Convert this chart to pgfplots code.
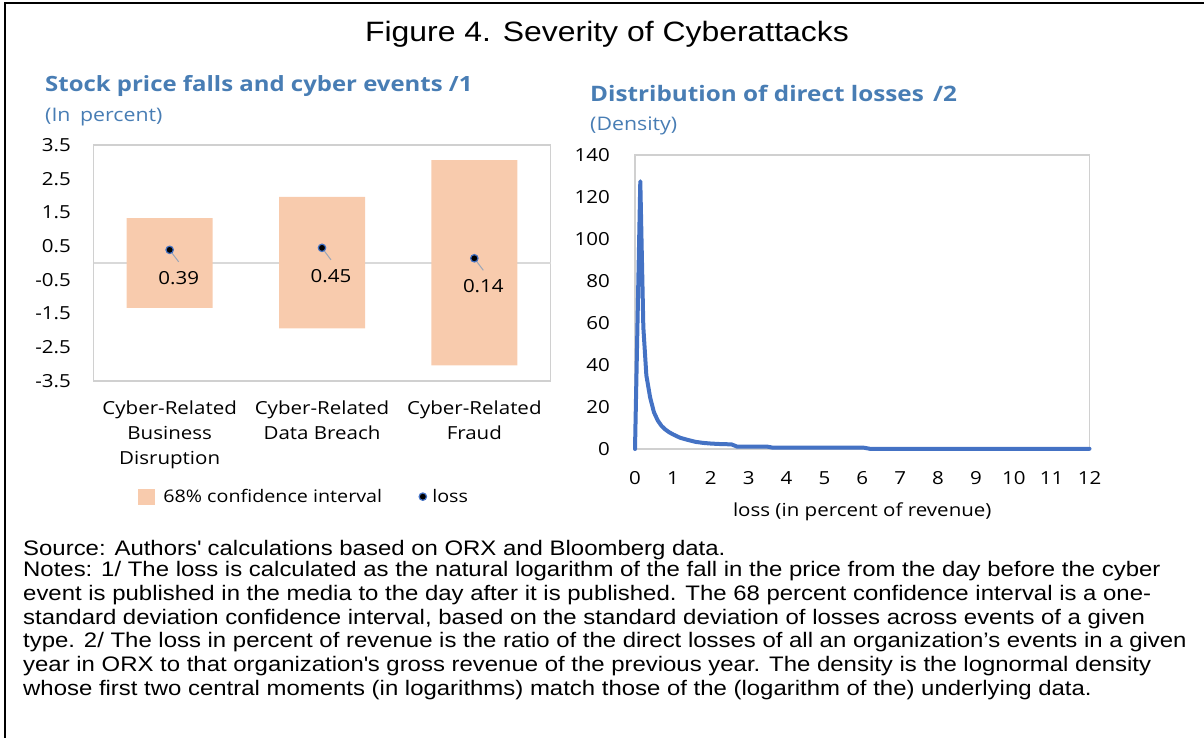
\documentclass[border=0pt]{standalone}
\usepackage{fontspec}
\setmainfont{Liberation Sans}[FakeStretch=1.14]
\newfontfamily\ui{Open Sans}[FakeStretch=1.14]
\usepackage{pgfplots}
\pgfplotsset{compat=1.18}
\definecolor{barfill}{HTML}{F8CBAD}
\definecolor{lineblue}{HTML}{4472C4}
\definecolor{subblue}{RGB}{72,125,180}
\definecolor{boxgray}{HTML}{D0D0D0}
\definecolor{zerogray}{HTML}{D9D9D9}
\definecolor{leader}{HTML}{9AA6B8}
\begin{document}
\begin{tikzpicture}
\path[use as bounding box] (0,0) rectangle (1204pt,-738pt);
\draw[line width=1.5pt] (5pt,-738pt) -- (5pt,-3pt) -- (1204pt,-3pt);
\node[anchor=base, inner sep=0pt, font=\fontsize{28}{32}\selectfont] at (607pt,-42pt) {Figure 4. Severity of Cyberattacks};
% left subtitles
\node[anchor=base west, inner sep=0pt, font=\ui\bfseries\fontsize{21}{25}\selectfont, text=subblue] at (45pt,-92pt) {Stock price falls and cyber events /1};
\node[anchor=base west, inner sep=0pt, font=\ui\fontsize{18.7}{22}\selectfont, text=subblue] at (45pt,-121.5pt) {(In\hspace{4pt} percent)};
% right subtitles
\node[anchor=base west, inner sep=0pt, font=\ui\bfseries\fontsize{21.3}{25}\selectfont, text=subblue] at (590pt,-101.3pt) {Distribution of direct losses\hspace{3pt} /2};
\node[anchor=base west, inner sep=0pt, font=\ui\fontsize{18.7}{22}\selectfont, text=subblue] at (590pt,-130.7pt) {(Density)};

\begin{axis}[
  at={(93.5pt,-381pt)}, anchor=south west, scale only axis,
  width=457pt, height=236pt,
  xmin=-0.5, xmax=2.5, ymin=-3.5, ymax=3.5,
  axis line style={draw=boxgray, line width=1.2pt},
  major tick length=0pt,
  xtick={0,1,2},
  xticklabels={{Cyber-Related\\Business\\Disruption},{Cyber-Related\\Data Breach},{Cyber-Related\\Fraud}},
  xticklabel style={align=center, anchor=north, inner sep=0pt, yshift=-20pt, font=\ui\fontsize{18}{25}\selectfont},
  ytick={-3.5,-2.5,-1.5,-0.5,0.5,1.5,2.5,3.5},
  yticklabels={-3.5,-2.5,-1.5,-0.5,0.5,1.5,2.5,3.5},
  yticklabel style={anchor=east, inner sep=0pt, xshift=-22.5pt, font=\ui\fontsize{18}{22}\selectfont},
  extra y ticks={0}, extra y tick labels={},
  extra y tick style={ymajorgrids=true, major grid style={draw=zerogray, line width=1.2pt}},
  clip=false,
  legend columns=2,
  legend cell align=left,
  legend style={at={(0.461,-0.49)}, anchor=center, draw=none, fill=none,
    font=\ui\fontsize{17.3}{20}\selectfont,
    /tikz/every even column/.append style={column sep=35pt}},
]
\addplot[ybar, bar width=86pt, bar shift=0pt, fill=barfill, draw=none,
  legend image code/.code={\fill[barfill] (0pt,-8pt) rectangle (17pt,8pt); \path (23pt,0pt);}]
  coordinates {(0,1.33) (1,1.96) (2,3.05)};
\addlegendentry{68\% confidence interval}
\addplot[ybar, bar width=86pt, bar shift=0pt, fill=barfill, draw=none, forget plot]
  coordinates {(0,-1.33) (1,-1.94) (2,-3.04)};
\draw[leader, line width=1pt] (axis cs:0,0.39) ++(2.5pt,-3.4pt) -- ++(6.5pt,-8.6pt);
\draw[leader, line width=1pt] (axis cs:1,0.45) ++(2.5pt,-3.4pt) -- ++(6.5pt,-8.6pt);
\draw[leader, line width=1pt] (axis cs:2,0.14) ++(2.5pt,-3.4pt) -- ++(6.5pt,-8.6pt);
\addplot[only marks, mark=*, mark size=3.7pt, mark options={fill=black, draw=lineblue, line width=1.2pt},
  nodes near coords, point meta=explicit symbolic,
  every node near coord/.append style={anchor=center, xshift=9pt, yshift=-28pt, font=\ui\fontsize{18}{22}\selectfont, text=black},
  legend image code/.code={\draw[mark=*, mark size=3.7pt, mark options={fill=black, draw=lineblue, line width=1.2pt}] plot coordinates {(0pt,0pt)}; \path (7.3pt,0pt);}]
  coordinates {(0,0.39)[0.39] (1,0.45)[0.45] (2,0.14)[0.14]};
\addlegendentry{loss}
\end{axis}

\begin{axis}[
  at={(635pt,-449pt)}, anchor=south west, scale only axis,
  width=454.5pt, height=294pt,
  xmin=0, xmax=12, ymin=0, ymax=140,
  axis line style={draw=boxgray, line width=1.2pt},
  major tick length=0pt,
  xtick={0,1,...,12}, ytick={0,20,...,140},
  /pgf/number format/assume math mode=true,
  xticklabel style={anchor=base, inner sep=0pt, yshift=-35.5pt, font=\ui\fontsize{18}{22}\selectfont},
  yticklabel style={anchor=east, inner sep=0pt, xshift=-25pt, font=\ui\fontsize{18}{22}\selectfont},
  xlabel={loss (in percent of revenue)},
  xlabel style={at={(axis description cs:0.5,0)}, anchor=base, inner sep=0pt, yshift=-67pt, font=\ui\fontsize{18}{22}\selectfont},
  clip=false,
]
\addplot[lineblue, line width=4pt, line join=round, line cap=round] coordinates {
 (0,0) (0.14,127.5) (0.22,58) (0.3,35) (0.4,24.5) (0.5,17.5) (0.6,13.6) (0.7,11)
 (0.8,9.3) (0.9,8) (1.0,7) (1.1,6.1) (1.2,5.3) (1.4,4.3) (1.6,3.4) (1.8,2.9)
 (2.0,2.6) (2.2,2.4) (2.55,2.2) (2.7,1.1) (3.5,1.1) (3.65,0.6) (6.05,0.6)
 (6.2,0.1) (12,0.1)};
\end{axis}

% notes
\begin{scope}[every node/.style={anchor=base west, inner sep=0pt, font=\fontsize{21}{24}\selectfont}]
\node at (23pt,-555pt) {Source: Authors\textquotesingle\ calculations based on ORX and Bloomberg data.};
\node at (23pt,-576.5pt) {Notes: 1/ The loss is calculated as the natural logarithm of the fall in the price from the day before the cyber};
\node at (23pt,-600.3pt) {event is published in the media to the day after it is published. The 68 percent confidence interval is a one-};
\node at (23pt,-624.1pt) {standard deviation confidence interval, based on the standard deviation of losses across events of a given};
\node at (23pt,-647.9pt) {type. 2/ The loss in percent of revenue is the ratio of the direct losses of all an organization’s events in a given};
\node at (23pt,-671.7pt) {year in ORX to that organization\textquotesingle s gross revenue of the previous year. The density is the lognormal density};
\node at (23pt,-695.5pt) {whose first two central moments (in logarithms) match those of the (logarithm of the) underlying data.};
\end{scope}
\end{tikzpicture}
\end{document}
